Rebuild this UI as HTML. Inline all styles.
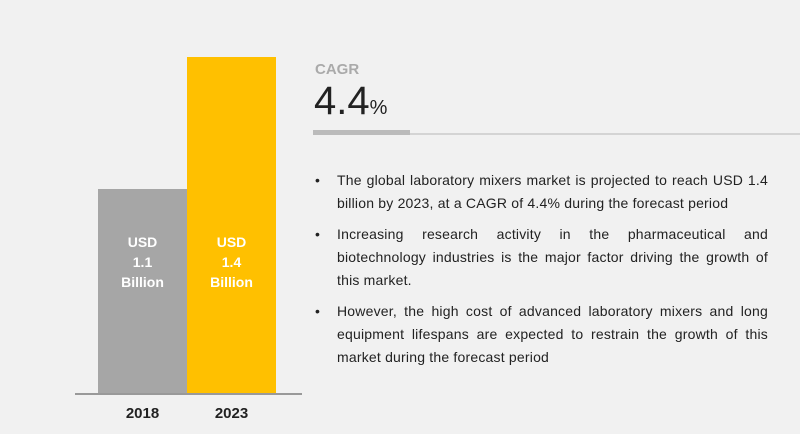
<!DOCTYPE html>
<html><head><style>
body{margin:0;width:800px;height:434px;background:#f1f1f1;position:relative;overflow:hidden;font-family:"Liberation Sans",sans-serif;}
.a{position:absolute}
.bt{color:#fff;font-weight:bold;font-size:14px;text-align:center;line-height:20px}
.yr{font-weight:bold;font-size:15px;color:#222;text-align:center;width:89px}
ul{position:absolute;left:312px;top:169px;width:456px;margin:0;padding:0;list-style:none;font-size:14px;letter-spacing:0.2px;color:#222;line-height:23px}
li{position:relative;padding-left:25px;text-align:justify;margin-bottom:8px}
li:before{content:"•";position:absolute;left:3px;top:0}
</style></head><body>
<div class="a" style="left:98px;top:189px;width:89px;height:205px;background:#a6a6a6"></div>
<div class="a" style="left:187px;top:57px;width:89px;height:337px;background:#ffc000"></div>
<div class="a" style="left:75px;top:393px;width:227px;height:2px;background:#999"></div>
<div class="a bt" style="left:98px;top:232px;width:89px">USD<br>1.1<br>Billion</div>
<div class="a bt" style="left:187px;top:232px;width:89px">USD<br>1.4<br>Billion</div>
<div class="a yr" style="left:98px;top:405px">2018</div>
<div class="a yr" style="left:187px;top:405px">2023</div>
<div class="a" style="left:315px;top:61px;font-size:15px;font-weight:bold;color:#aaa">CAGR</div>
<div class="a" style="left:314px;top:79px;font-size:40px;color:#222;letter-spacing:0px">4.4<span style="font-size:20px">%</span></div>
<div class="a" style="left:313px;top:130px;width:97px;height:5px;background:#bbb"></div>
<div class="a" style="left:410px;top:133px;width:390px;height:2px;background:#d4d4d4"></div>
<ul>
<li>The global laboratory mixers market is projected to reach USD 1.4 billion by 2023, at a CAGR of 4.4% during the forecast period</li>
<li>Increasing research activity in the pharmaceutical and biotechnology industries is the major factor driving the growth of this market.</li>
<li>However, the high cost of advanced laboratory mixers and long equipment lifespans are expected to restrain the growth of this market during the forecast period</li>
</ul>
</body></html>
